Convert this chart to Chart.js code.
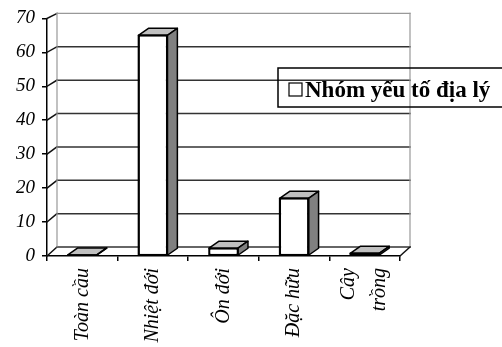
<!DOCTYPE html>
<html>
<head>
<meta charset="utf-8">
<script src="https://cdn.jsdelivr.net/npm/chart.js@4/dist/chart.umd.min.js"></script>
<style>
  html, body { margin: 0; padding: 0; background: #fff; }
  #wrap { width: 502px; height: 347px; }
</style>
</head>
<body>
<div id="wrap"><canvas id="c"></canvas></div>
<script>
// data
const categories = ['Toàn cầu', 'Nhiệt đới', 'Ôn đới', 'Đặc hữu', ['Cây', 'trồng']];
const seriesLabel = 'Nhóm yếu tố địa lý';
const values = [0.3, 65, 2.3, 17, 0.8];
const yMax = 70;
const yStep = 10;

const serif = '"Liberation Serif", "DejaVu Serif", serif';

// depth of the fake 3d walls / bars
const DX = 10;
const wallDy = (chart, y) => {
  // a bit of perspective: deeper at the floor than at the top
  const { top, bottom } = chart.chartArea;
  return 5 + 4 * (y - top) / (bottom - top);
};

const wallPlugin = {
  id: 'wall',
  beforeDatasetsDraw(chart) {
    const { ctx, chartArea } = chart;
    const { left, right, bottom } = chartArea;
    const ys = chart.scales.y;
    ctx.save();
    ctx.lineCap = 'square';

    // back wall gridlines + side wall diagonals
    for (let v = 0; v <= yMax; v += yStep) {
      const y = ys.getPixelForValue(v);
      const dy = wallDy(chart, y);
      ctx.beginPath();
      ctx.moveTo(left, y);
      ctx.lineTo(left + DX, y - dy);
      ctx.strokeStyle = '#111';
      ctx.lineWidth = 1.5;
      ctx.stroke();

      ctx.beginPath();
      ctx.moveTo(left + DX, y - dy);
      ctx.lineTo(right + DX, y - dy);
      ctx.strokeStyle = v === yMax ? '#999' : '#333';
      ctx.lineWidth = v === yMax ? 1.2 : 1.5;
      ctx.stroke();
    }

    // wall edges
    const yt = ys.getPixelForValue(yMax);
    const dyT = wallDy(chart, yt);
    const dyB = wallDy(chart, bottom);
    ctx.strokeStyle = '#999';
    ctx.lineWidth = 1.2;
    ctx.beginPath();
    ctx.moveTo(left + DX, yt - dyT);
    ctx.lineTo(left + DX, bottom - dyB);
    ctx.moveTo(right + DX, yt - dyT);
    ctx.lineTo(right + DX, bottom - dyB);
    ctx.stroke();

    // floor right edge
    ctx.strokeStyle = '#111';
    ctx.lineWidth = 1.5;
    ctx.beginPath();
    ctx.moveTo(right, bottom);
    ctx.lineTo(right + DX, bottom - dyB);
    ctx.stroke();
    ctx.restore();
  },
};

const bar3dPlugin = {
  id: 'bar3d',
  afterDatasetsDraw(chart) {
    const { ctx } = chart;
    const meta = chart.getDatasetMeta(0);
    const dy = 7;
    ctx.save();
    ctx.strokeStyle = '#000';
    ctx.lineWidth = 1.5;
    ctx.lineJoin = 'round';
    meta.data.forEach((bar) => {
      const { x, y, base, width } = bar.getProps(['x', 'y', 'base', 'width'], true);
      const l = x - width / 2;
      const r = x + width / 2;
      // top face
      ctx.beginPath();
      ctx.moveTo(l, y);
      ctx.lineTo(l + DX, y - dy);
      ctx.lineTo(r + DX, y - dy);
      ctx.lineTo(r, y);
      ctx.closePath();
      ctx.fillStyle = '#c0c0c0';
      ctx.fill();
      ctx.stroke();
      // side face
      ctx.beginPath();
      ctx.moveTo(r, y);
      ctx.lineTo(r + DX, y - dy);
      ctx.lineTo(r + DX, base - dy);
      ctx.lineTo(r, base);
      ctx.closePath();
      ctx.fillStyle = '#808080';
      ctx.fill();
      ctx.stroke();
      // front outline again so it sits on top
      ctx.strokeRect(l, y, width, base - y);
    });
    ctx.restore();
  },
};

// chart.js puts the first line of a rotated multi-line label on the tick;
// centre the whole block on it instead
const centreLabelsPlugin = {
  id: 'centreLabels',
  beforeDraw(chart) {
    const scale = chart.scales.x;
    const items = scale.getLabelItems(chart.chartArea) || [];
    items.forEach((item) => {
      const tr = item.options && item.options.translation;
      if (tr && Array.isArray(item.label) && !item.centred) {
        const lh = item.font.lineHeight;
        tr[0] -= (item.label.length - 1) * lh / 2;
        item.centred = true;
      }
    });
  },
};

const legendBoxPlugin = {
  id: 'legendBox',
  afterDraw(chart) {
    const { ctx } = chart;
    ctx.save();
    ctx.strokeStyle = '#000';
    ctx.lineWidth = 1.5;
    ctx.strokeRect(278, 68, 260, 39);
    ctx.fillStyle = '#fff';
    ctx.fillRect(289, 83, 13, 13);
    ctx.lineWidth = 1.2;
    ctx.strokeRect(289, 83, 13, 13);
    ctx.fillStyle = '#000';
    ctx.font = `bold 23px ${serif}`;
    ctx.textBaseline = 'alphabetic';
    ctx.fillText(chart.data.datasets[0].label, 305, 97);
    ctx.restore();
  },
};

new Chart(document.getElementById('c'), {
  type: 'bar',
  data: {
    labels: categories,
    datasets: [
      {
        label: seriesLabel,
        data: values,
        backgroundColor: '#fff',
        borderColor: '#000',
        borderWidth: 1.5,
        borderSkipped: false,
        barPercentage: 0.41,
        categoryPercentage: 1,
      },
    ],
  },
  options: {
    responsive: true,
    maintainAspectRatio: false,
    animation: false,
    layout: {
      padding: { top: 16, right: 102, left: 0, bottom: 0 },
    },
    plugins: {
      legend: { display: false },
      tooltip: { enabled: false },
    },
    scales: {
      x: {
        grid: {
          drawOnChartArea: false,
          drawTicks: true,
          tickLength: 5,
          color: '#000',
          lineWidth: 1.5,
        },
        border: { color: '#000', width: 1.5 },
        ticks: {
          minRotation: 90,
          maxRotation: 90,
          autoSkip: false,
          padding: 7,
          color: '#000',
          font: { family: serif, style: 'italic', size: 20, lineHeight: 1.55 },
        },
        afterFit: (scale) => { scale.height = 91; },
      },
      y: {
        min: 0,
        max: yMax,
        grid: {
          drawOnChartArea: false,
          drawTicks: true,
          tickLength: 5,
          color: '#000',
          lineWidth: 1.5,
        },
        border: { color: '#000', width: 1.5 },
        ticks: {
          stepSize: yStep,
          padding: 7,
          color: '#000',
          font: { family: serif, style: 'italic', size: 19 },
        },
        afterFit: (scale) => { scale.width = 47; },
      },
    },
  },
  plugins: [wallPlugin, bar3dPlugin, centreLabelsPlugin, legendBoxPlugin],
});
</script>
</body>
</html>
